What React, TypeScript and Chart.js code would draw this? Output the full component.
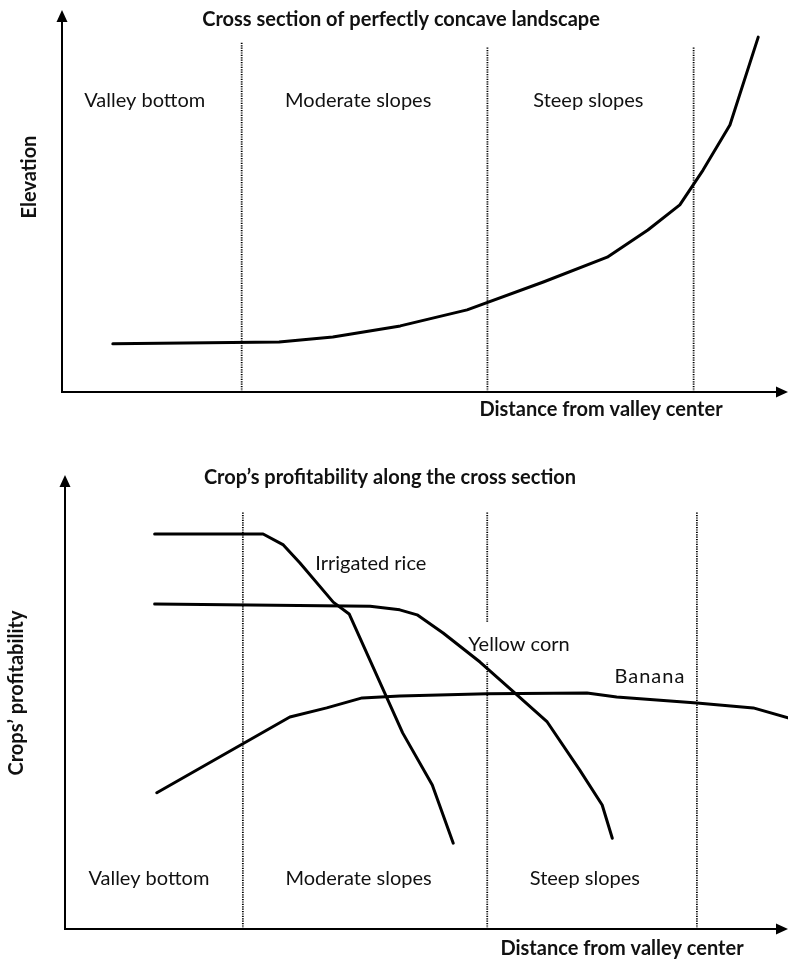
import React, { useEffect, useRef } from "react";
import { Chart, registerables } from "chart.js";

Chart.register(...registerables);

// ---------- Top chart: cross section (arbitrary units 0–100) ----------
const elevX = [7.0, 29.9, 37.3, 46.6, 55.8, 66.3, 75.1, 80.7, 85.1, 88.3, 92.0, 95.9];
const elevY = [12.6, 13.1, 14.4, 17.3, 21.5, 28.8, 35.3, 42.4, 49.0, 58.1, 69.9, 92.9];
const topBounds = [24.75, 58.6, 87.0];
const topBoundTops = [91.4, 90.3, 90.3];
const zoneNames = ["Valley bottom", "Moderate slopes", "Steep slopes"];
const topZoneLabelX = [11.4, 40.8, 72.5];
const topZoneLabelY = 74.6;

// ---------- Bottom chart: crop profitability (arbitrary units 0–100) ----------
const riceX = [12.4, 27.4, 30.2, 32.5, 37.1, 39.3, 46.7, 50.8, 53.7];
const riceY = [87.0, 87.0, 84.6, 80.6, 72.0, 69.4, 43.2, 31.7, 18.9];
const cornX = [12.4, 42.2, 46.3, 48.7, 52.3, 57.4, 62.2, 66.7, 71.2, 74.3, 75.7];
const cornY = [71.6, 71.1, 70.3, 69.2, 65.2, 58.8, 52.0, 45.6, 35.0, 27.3, 20.0];
const bananaX = [12.7, 31.1, 36.2, 41.1, 46.3, 58.4, 72.2, 76.3, 87.4, 95.2, 100];
const bananaY = [30.0, 46.7, 48.7, 50.9, 51.3, 51.8, 52.0, 51.1, 49.8, 48.7, 46.5];
const cropNames = ["Irrigated rice", "Yellow corn", "Banana"];
const cropLabelX = [42.3, 62.8, 80.9];
const cropLabelY = [79.1, 61.2, 54.2];
const botBounds = [24.6, 58.4, 87.4];
const botBoundTop = 91.9;
const botZoneLabelX = [11.6, 40.6, 71.9];
const botZoneLabelY = 9.7;

const topTitle = "Cross section of perfectly concave landscape";
const botTitle = "Crop\u2019s profitability along the cross section";
const xTitle = "Distance from valley center";
const topYTitle = "Elevation";
const botYTitle = "Crops\u2019 profitability";

const FONT = "Lato, 'Open Sans', sans-serif";
const TEXT = "#111";
const SIZE = 20;

const pts = (xs: number[], ys: number[]) => xs.map((x, i) => ({ x, y: ys[i] }));

const curve = (data: any[]) => ({
  data,
  borderColor: "#000",
  borderWidth: 3,
  pointRadius: 0,
  tension: 0,
  fill: false,
  clip: false as any,
  borderCapStyle: "round" as const,
  borderJoinStyle: "round" as const,
  order: 0,
});

const divider = (x: number, top: number) => ({
  data: [
    { x, y: 0 },
    { x, y: top },
  ],
  borderColor: "#000",
  borderWidth: 1.8,
  borderDash: [1.2, 1.2],
  pointRadius: 0,
  fill: false,
  clip: false as any,
  order: 1,
});

function drawAxes(ctx: CanvasRenderingContext2D, a: any) {
  ctx.save();
  ctx.strokeStyle = "#000";
  ctx.fillStyle = "#000";
  ctx.lineWidth = 2;
  ctx.beginPath();
  ctx.moveTo(a.left, a.top + 8);
  ctx.lineTo(a.left, a.bottom);
  ctx.lineTo(a.right - 8, a.bottom);
  ctx.stroke();
  ctx.beginPath();
  ctx.moveTo(a.left, a.top);
  ctx.lineTo(a.left - 5.5, a.top + 12);
  ctx.lineTo(a.left + 5.5, a.top + 12);
  ctx.closePath();
  ctx.fill();
  ctx.beginPath();
  ctx.moveTo(a.right, a.bottom);
  ctx.lineTo(a.right - 12, a.bottom - 5.5);
  ctx.lineTo(a.right - 12, a.bottom + 5.5);
  ctx.closePath();
  ctx.fill();
  ctx.restore();
}

function text(
  ctx: CanvasRenderingContext2D,
  s: string,
  x: number,
  y: number,
  font: string,
  opts: { rotate?: boolean; spacing?: string; baseline?: CanvasTextBaseline } = {}
) {
  ctx.save();
  ctx.fillStyle = TEXT;
  ctx.font = font;
  ctx.textAlign = "center";
  ctx.textBaseline = opts.baseline || "alphabetic";
  if (opts.spacing) (ctx as any).letterSpacing = opts.spacing;
  if (opts.rotate) {
    ctx.translate(x, y);
    ctx.rotate(-Math.PI / 2);
    ctx.fillText(s, 0, 0);
  } else {
    ctx.fillText(s, x, y);
  }
  ctx.restore();
}

const baseOptions = (padding: any) => ({
  responsive: false,
  animation: false as const,
  devicePixelRatio: 1,
  events: [] as any,
  layout: { padding },
  plugins: { legend: { display: false }, title: { display: false }, tooltip: { enabled: false } },
  scales: {
    x: { type: "linear" as const, min: 0, max: 100, display: false },
    y: { type: "linear" as const, min: 0, max: 100, display: false },
  },
});

export default function App() {
  const topRef = useRef<HTMLCanvasElement>(null);
  const botRef = useRef<HTMLCanvasElement>(null);

  useEffect(() => {
    const reg = `${SIZE}px ${FONT}`;
    const bold = `bold ${SIZE}px ${FONT}`;

    const topPlugin = {
      id: "topDeco",
      beforeDatasetsDraw(chart: any) {
        drawAxes(chart.ctx, chart.chartArea);
      },
      afterDraw(chart: any) {
        const ctx = chart.ctx;
        const a = chart.chartArea;
        const sx = chart.scales.x;
        const sy = chart.scales.y;
        zoneNames.forEach((n, i) =>
          text(ctx, n, sx.getPixelForValue(topZoneLabelX[i]), sy.getPixelForValue(topZoneLabelY), reg)
        );
        text(ctx, topTitle, 401, 26, bold);
        text(ctx, xTitle, 601, a.bottom + 24, bold);
        text(ctx, topYTitle, 30, 177, bold, { rotate: true, baseline: "middle" });
      },
    };

    const botPlugin = {
      id: "botDeco",
      beforeDatasetsDraw(chart: any) {
        drawAxes(chart.ctx, chart.chartArea);
      },
      afterDatasetDraw(chart: any, args: any) {
        // opaque text box of the "Yellow corn" label hides part of the middle divider
        if (args.index === 4) {
          const ctx = chart.ctx;
          const sx = chart.scales.x;
          const sy = chart.scales.y;
          ctx.save();
          ctx.font = reg;
          const w = ctx.measureText(cropNames[1]).width;
          const cx = sx.getPixelForValue(cropLabelX[1]);
          const by = sy.getPixelForValue(cropLabelY[1]);
          ctx.fillStyle = "#fff";
          ctx.fillRect(cx - w / 2 - 6, by - 29, w + 12, 40);
          ctx.restore();
        }
      },
      afterDraw(chart: any) {
        const ctx = chart.ctx;
        const a = chart.chartArea;
        const sx = chart.scales.x;
        const sy = chart.scales.y;
        zoneNames.forEach((n, i) =>
          text(ctx, n, sx.getPixelForValue(botZoneLabelX[i]), sy.getPixelForValue(botZoneLabelY), reg)
        );
        cropNames.forEach((n, i) =>
          text(ctx, n, sx.getPixelForValue(cropLabelX[i]), sy.getPixelForValue(cropLabelY[i]), reg, {
            spacing: i === 2 ? "1px" : undefined,
          })
        );
        text(ctx, botTitle, 390, 54, bold);
        text(ctx, xTitle, 622, a.bottom + 26, bold);
        text(ctx, botYTitle, 17, 263, bold, { rotate: true, baseline: "middle" });
      },
    };

    const top = new Chart(topRef.current!, {
      type: "line",
      data: {
        datasets: [
          curve(pts(elevX, elevY)),
          ...topBounds.map((b, i) => divider(b, topBoundTops[i])),
        ] as any,
      },
      options: baseOptions({ left: 62, right: 0, top: 10, bottom: 38 }) as any,
      plugins: [topPlugin],
    });

    const bot = new Chart(botRef.current!, {
      type: "line",
      data: {
        datasets: [
          curve(pts(riceX, riceY)),
          curve(pts(cornX, cornY)),
          curve(pts(bananaX, bananaY)),
          ...botBounds.map((b) => divider(b, botBoundTop)),
        ] as any,
      },
      options: baseOptions({ left: 65, right: 0, top: 45, bottom: 32 }) as any,
      plugins: [botPlugin],
    });

    return () => {
      top.destroy();
      bot.destroy();
    };
  }, []);

  return (
    <div style={{ position: "absolute", left: 0, top: 0, width: 788, height: 961, background: "#fff" }}>
      <canvas ref={topRef} width={788} height={430} style={{ position: "absolute", left: 0, top: 0, display: "block" }} />
      <canvas ref={botRef} width={788} height={531} style={{ position: "absolute", left: 0, top: 430, display: "block" }} />
    </div>
  );
}
